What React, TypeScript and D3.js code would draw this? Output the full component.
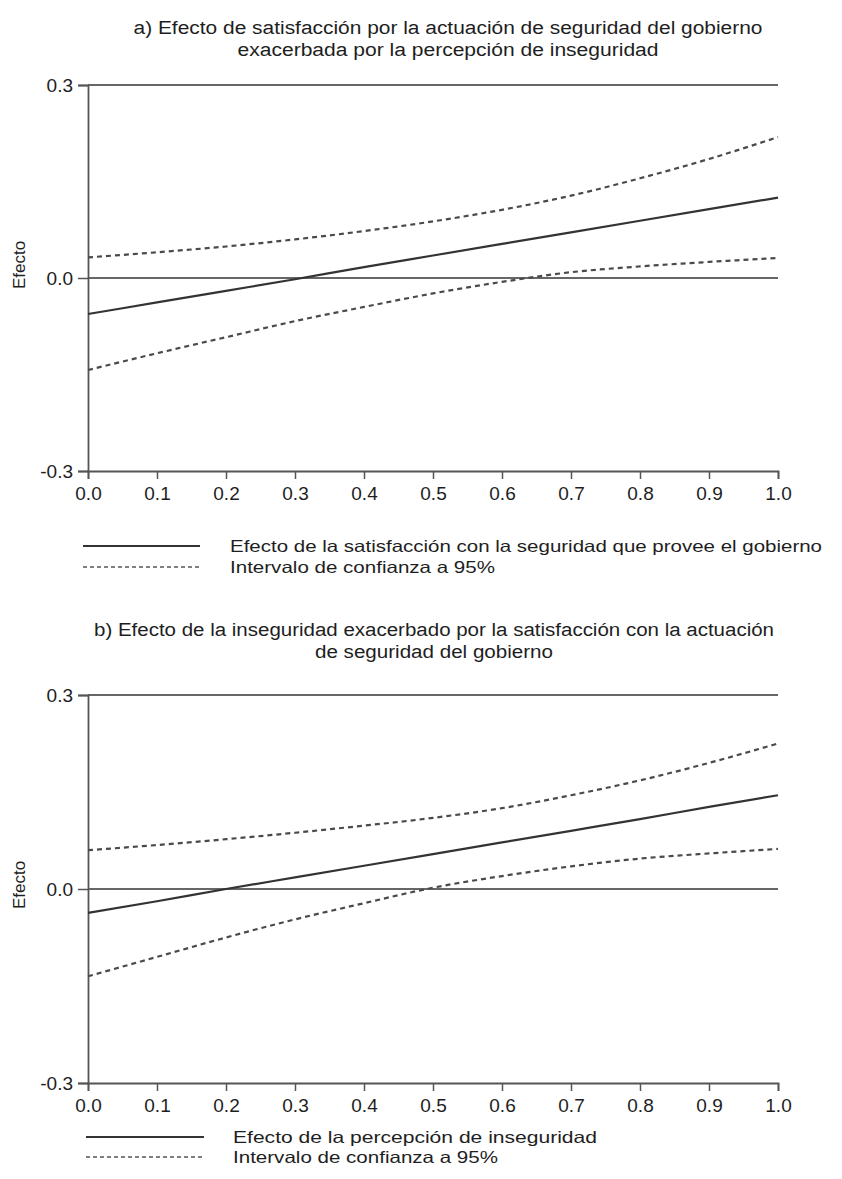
import React, { useEffect, useRef } from 'react';
import * as d3 from 'd3';

// valores
const xValues = [0, 0.1, 0.2, 0.3, 0.4, 0.5, 0.6, 0.7, 0.8, 0.9, 1.0];
const xTicks = [0, 0.1, 0.2, 0.3, 0.4, 0.5, 0.6, 0.7, 0.8, 0.9, 1.0];
const yTicks = [-0.3, 0.0, 0.3];

const effectA = [-0.056, -0.038, -0.02, -0.002, 0.017, 0.035, 0.053, 0.071, 0.089, 0.107, 0.125];
const upperA = [0.032, 0.04, 0.049, 0.06, 0.073, 0.088, 0.106, 0.128, 0.155, 0.185, 0.219];
const lowerA = [-0.143, -0.117, -0.092, -0.067, -0.045, -0.024, -0.006, 0.009, 0.018, 0.025, 0.031];

const effectB = [-0.037, -0.019, 0.0, 0.018, 0.036, 0.054, 0.072, 0.09, 0.108, 0.127, 0.145];
const upperB = [0.06, 0.068, 0.077, 0.087, 0.098, 0.11, 0.125, 0.145, 0.168, 0.195, 0.225];
const lowerB = [-0.135, -0.105, -0.075, -0.047, -0.022, 0.002, 0.02, 0.035, 0.047, 0.055, 0.062];

const titleA = [
  'a) Efecto de satisfacción por la actuación de seguridad del gobierno',
  'exacerbada por la percepción de inseguridad',
];
const titleB = [
  'b) Efecto de la inseguridad exacerbado por la satisfacción con la actuación',
  'de seguridad del gobierno',
];
const legendA = ['Efecto de la satisfacción con la seguridad que provee el gobierno', 'Intervalo de confianza a 95%'];
const legendB = ['Efecto de la percepción de inseguridad', 'Intervalo de confianza a 95%'];

const FONT = '"Liberation Sans", Arial, sans-serif';
const INK = '#1e1e1e';

type Panel = {
  top: number; // pixel de 0.3
  bottom: number; // pixel de -0.3
  title: string[];
  titleY: number[];
  titleX: number;
  titleW: number[];
  effect: number[];
  upper: number[];
  lower: number[];
  legend: string[];
  legendY: number[];
  legendW: number[];
  legendLine: [number, number];
  legendTextX: number;
  labelY: number;
};

const panels: Panel[] = [
  {
    top: 85, bottom: 471,
    title: titleA, titleY: [28, 50], titleX: 448, titleW: [629, 421],
    effect: effectA, upper: upperA, lower: lowerA,
    legend: legendA, legendY: [546, 567], legendW: [592, 265],
    legendLine: [83, 200], legendTextX: 230, labelY: 265,
  },
  {
    top: 695, bottom: 1083,
    title: titleB, titleY: [630, 652], titleX: 434, titleW: [680, 238],
    effect: effectB, upper: upperB, lower: lowerB,
    legend: legendB, legendY: [1137, 1157], legendW: [364, 265],
    legendLine: [86, 204], legendTextX: 233, labelY: 885,
  },
];

const fmt = (d: number) => d3.format('.1f')(d).replace('\u2212', '-');

const App = () => {
  const ref = useRef<SVGSVGElement>(null);

  useEffect(() => {
    if (!ref.current) return;
    const svg = d3.select(ref.current);
    svg.selectAll('*').remove();

    const x = d3.scaleLinear().domain([0, 1]).range([88, 778]);

    panels.forEach(p => {
      const y = d3.scaleLinear().domain([-0.3, 0.3]).range([p.bottom, p.top]);
      const g = svg.append('g');

      // títulos
      p.title.forEach((t, i) => {
        g.append('text')
          .attr('x', p.titleX).attr('y', p.titleY[i])
          .attr('text-anchor', 'middle').attr('dominant-baseline', 'central')
          .attr('font-family', FONT).attr('font-size', 18).attr('fill', INK)
          .attr('textLength', p.titleW[i]).attr('lengthAdjust', 'spacingAndGlyphs')
          .text(t);
      });

      // líneas de referencia en 0.3 y 0.0
      [0.3, 0.0].forEach(v => {
        g.append('line')
          .attr('x1', x(0)).attr('x2', x(1))
          .attr('y1', y(v)).attr('y2', y(v))
          .attr('stroke', '#666').attr('stroke-width', 1.8);
      });

      const xAxis = g.append('g')
        .attr('transform', `translate(0,${y(-0.3)})`)
        .call(d3.axisBottom(x).tickValues(xTicks).tickFormat(fmt).tickSize(8).tickPadding(8));
      const yAxis = g.append('g')
        .attr('transform', `translate(${x(0)},0)`)
        .call(d3.axisLeft(y).tickValues(yTicks).tickFormat(fmt).tickSize(10).tickPadding(5));
      [xAxis, yAxis].forEach(a => {
        a.select('.domain').attr('stroke', '#555').attr('stroke-width', 1.8);
        a.selectAll('.tick line').attr('stroke', '#555').attr('stroke-width', 1.5);
        a.selectAll('.tick text')
          .attr('font-family', FONT).attr('font-size', 19).attr('fill', INK);
      });

      g.append('text')
        .attr('transform', `translate(19,${p.labelY}) rotate(-90)`)
        .attr('text-anchor', 'middle').attr('dominant-baseline', 'central')
        .attr('font-family', FONT).attr('font-size', 17).attr('fill', INK)
        .text('Efecto');

      const curve = d3.line<number>()
        .x((_, i) => x(xValues[i]))
        .y(d => y(d))
        .curve(d3.curveMonotoneX);

      [p.upper, p.lower].forEach(s => {
        g.append('path').attr('d', curve(s))
          .attr('fill', 'none').attr('stroke', '#4a4a4a')
          .attr('stroke-width', 2.2).attr('stroke-dasharray', '5,4');
      });
      g.append('path').attr('d', curve(p.effect))
        .attr('fill', 'none').attr('stroke', '#333').attr('stroke-width', 2.2);

      // leyenda
      p.legend.forEach((t, i) => {
        g.append('line')
          .attr('x1', p.legendLine[0]).attr('x2', p.legendLine[1])
          .attr('y1', p.legendY[i]).attr('y2', p.legendY[i])
          .attr('stroke', i === 0 ? '#333' : '#555').attr('stroke-width', i === 0 ? 2 : 1.5)
          .attr('stroke-dasharray', i === 0 ? null : '4,3');
        g.append('text')
          .attr('x', p.legendTextX).attr('y', p.legendY[i])
          .attr('dominant-baseline', 'central')
          .attr('font-family', FONT).attr('font-size', 16.5).attr('fill', INK)
          .attr('textLength', p.legendW[i]).attr('lengthAdjust', 'spacingAndGlyphs')
          .text(t);
      });
    });
  }, []);

  return (
    <svg
      ref={ref}
      width={842}
      height={1179}
      style={{ position: 'absolute', left: 0, top: 0, background: '#fff' }}
    />
  );
};

export default App;
